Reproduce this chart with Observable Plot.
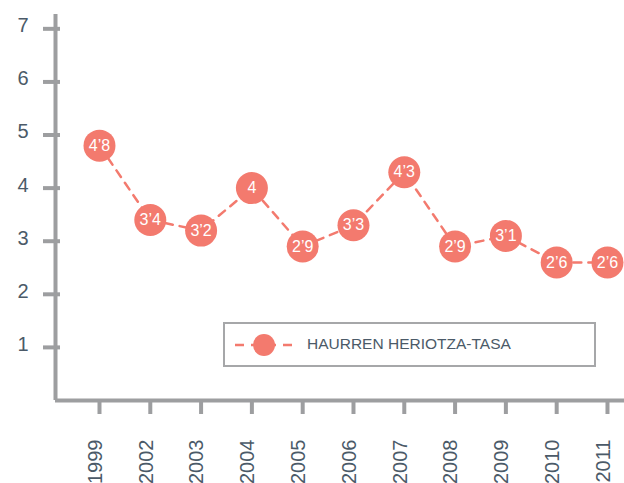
<!DOCTYPE html>
<html>
<head>
<meta charset="utf-8">
<script src="https://cdn.jsdelivr.net/npm/d3@7"></script>
<script src="https://cdn.jsdelivr.net/npm/@observablehq/plot@0.6"></script>
<style>
  html, body { margin: 0; padding: 0; background: #fff; }
  #wrap { position: relative; width: 624px; height: 483px; overflow: hidden; font-family: Arial, "Liberation Sans", sans-serif; }
  #legend { position: absolute; left: 223px; top: 322px; width: 369px; height: 41px; border: 2px solid #a6a7a9; background: #fff; }
  #legend svg { position: absolute; left: 8px; top: 6px; }
  #legend span { position: absolute; left: 82px; top: 11px; font-size: 15.5px; color: #4b5a68; }
  [aria-label="y-axis tick"] path, [aria-label="x-axis tick"] path { stroke: #9d9ea0 !important; stroke-width: 4px !important; }
  [aria-label$="axis tick label"], [aria-label$="axis tick label"] text { fill: #4b5a68 !important; }
</style>
</head>
<body>
<div id="wrap">
  <div id="chart"></div>
  <div id="legend">
    <svg width="70" height="30">
      <line x1="2" y1="15" x2="64" y2="15" stroke="#f37a6e" stroke-width="2.5" stroke-dasharray="9,7"></line>
      <circle cx="31" cy="15" r="11" fill="#f37a6e"></circle>
    </svg>
    <span>HAURREN HERIOTZA-TASA</span>
  </div>
</div>
<script>
const years = ["1999","2002","2003","2004","2005","2006","2007","2008","2009","2010","2011"];
const values = [4.8, 3.4, 3.2, 4, 2.9, 3.3, 4.3, 2.9, 3.1, 2.6, 2.6];
const yTicks = [1, 2, 3, 4, 5, 6, 7];
const seriesName = "HAURREN HERIOTZA-TASA";

const data = years.map((y, i) => ({i, year: y, value: values[i], label: String(values[i]).replace(".", "’")}));
const xDomain = [-0.866, 10.335];
const yDomain = [0, 7.27];
const color = "#f37a6e";
const grey = "#9d9ea0";
const xIdx = d3.range(years.length);

const chart = Plot.plot({
  width: 624,
  height: 483,
  marginLeft: 55,
  marginRight: 0,
  marginTop: 14,
  marginBottom: 83,
  style: {fontFamily: "Arial, 'Liberation Sans', sans-serif", background: "transparent"},
  x: {type: "linear", domain: xDomain, label: null},
  y: {domain: yDomain, label: null},
  marks: [
    Plot.ruleY([0], {stroke: grey, strokeWidth: 4}),
    Plot.ruleX([xDomain[0]], {y1: yDomain[0], y2: yDomain[1], stroke: grey, strokeWidth: 4}),
    // tick marks only
    Plot.axisY({ticks: yTicks, tickFormat: () => "", tickSize: 17, dx: 5, label: null}),
    Plot.axisX({ticks: xIdx, tickFormat: () => "", tickSize: 14, label: null}),
    // labels only
    Plot.axisY({ticks: yTicks, tickFormat: d => String(d), tickSize: 0, tickPadding: 27, dy: -3, label: null, fontSize: 20}),
    Plot.axisX({ticks: xIdx, tickFormat: i => years[i], tickSize: 0, tickRotate: -90, tickPadding: 39, dx: -4, label: null, fontSize: 20}),
    Plot.line(data, {x: "i", y: "value", stroke: color, strokeWidth: 2.5, strokeDasharray: "8,7"}),
    Plot.dot(data, {x: "i", y: "value", r: 16, fill: color, stroke: null}),
    Plot.text(data, {x: "i", y: "value", text: "label", fill: "white", fontSize: 16})
  ]
});
document.getElementById("chart").appendChild(chart);
</script>
</body>
</html>
